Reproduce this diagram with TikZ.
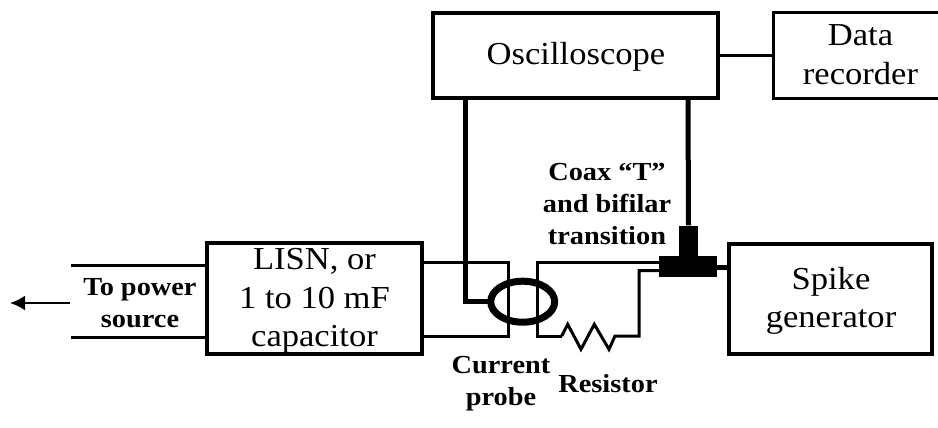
\documentclass[tikz,border=0pt]{standalone}
\usepackage{fontspec}
\setmainfont{Liberation Serif}
\newfontfamily\labelfont[FakeStretch=1.08]{Liberation Serif}
\newfontfamily\boldlabelfont[FakeStretch=1.09,BoldFont={Liberation Serif Bold}]{Liberation Serif}
\usetikzlibrary{arrows.meta,shapes.geometric}
\tikzset{
 box/.style={draw,line width=3.1pt,inner sep=0pt},
 frameonly/.style={inner sep=0pt},
 boxtext/.style={align=center,inner sep=0pt,font=\labelfont\fontsize{32}{38.5}\selectfont},
 wire/.style={draw,line width=3pt,line join=miter},
 thickwire/.style={draw,line width=5pt,line join=miter},
 lbl/.style={align=center,font=\boldlabelfont\bfseries\fontsize{26}{32}\selectfont,inner sep=0pt},
 solid block/.style={fill=black,draw=none,inner sep=0pt},
}
\begin{document}
\begin{tikzpicture}[x=1pt,y=-1pt]
\useasboundingbox (0,0) rectangle (938,428);
\node[box,minimum width=285pt,minimum height=85pt] (osc) at (575.5,55.5) {};
\node[frameonly,minimum width=164pt,minimum height=85pt] (rec) at (856,55.5) {};
\draw[line width=3.1pt] (rec.north east) -- (rec.north west) -- (rec.south west) -- (rec.south east);
\node[box,minimum width=215pt,minimum height=111pt] (lisn) at (314.5,298.5) {};
\node[box,minimum width=203pt,minimum height=110pt] (spike) at (830.5,299) {};
\node[boxtext] (osct) at (576,56.5) {Oscilloscope};
\node[boxtext] (rect) at (860.5,54.5) {Data\\recorder};
\node[boxtext] (lisnt) at (314.5,301) {LISN, or\\1 to 10 mF\\capacitor};
\node[boxtext] (spiket) at (831,301) {Spike\\generator};
\node[solid block,minimum width=57.5pt,minimum height=20.7pt] (thoriz) at (688,266.3) {};
\node[solid block,minimum width=18.4pt,minimum height=31pt] (tvert) at (688.5,241) {};
\node[lbl] (ct) at (140,303) {To power\\source};
\node[lbl] (cc) at (607,204) {Coax “T”\\and bifilar\\transition};
\node[lbl] (cp) at (501,384) {Current\\probe};
\node[lbl] (cr) at (608,384) {Resistor};
\coordinate (pw1) at (71,265);
\coordinate (pw2) at (71,337);
\draw[wire] (pw1) -- (pw1-|lisn.west);
\draw[wire] (pw2) -- (pw2-|lisn.west);
\coordinate (ah) at (70,303);
\coordinate (at) at (10,303);
\draw[line width=2.4pt,-{Latex[length=15pt,width=15pt]}] (ah) -- (at);
\draw[line width=3pt] (osc.east) -- (rec.west);
\coordinate (a1) at (422,262.5); \coordinate (a2) at (508.7,262.5);
\coordinate (a3) at (508.7,336); \coordinate (a4) at (422,336);
\draw[wire] (a1) -- (a2) -- (a3) -- (a4);
\coordinate (b1) at (537,336); \coordinate (b2) at (537,262.5); \coordinate (b3) at (660,262.5);
\coordinate (r0) at (561.7,336); \coordinate (r1) at (639,336); \coordinate (r2) at (639,270.7); \coordinate (r3) at (660,270.7);
\draw[wire] (r0) -- (b1) -- (b2) -- (b3);
\draw[wire] (r0) -- (567.7,324.3) -- (581,349.3) -- (594.3,324.3) -- (609,349.3) -- (615,336) -- (r1) -- (r2) -- (r3);
\draw[thickwire] (thoriz.east |- 0,267.5) -- (spike.west |- 0,267.5);
\node[ellipse,draw,line width=7pt,inner sep=0pt,minimum width=64pt,minimum height=41pt,outer sep=0pt] (probe) at (522.7,301.7) {};
\coordinate (o1) at (465,98);
\coordinate (o2) at (465,301.7);
\draw[thickwire] (o1) -- (o2) -- (probe.west);
\coordinate (o4) at (688,98);
\draw[thickwire] (o4) -- (tvert.north);
\end{tikzpicture}
\end{document}
